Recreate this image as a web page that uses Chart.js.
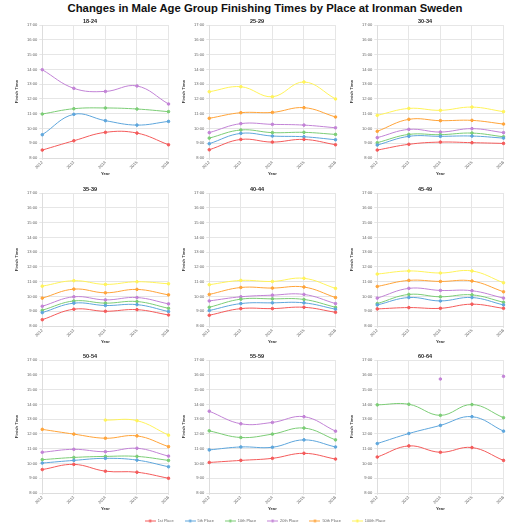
<!DOCTYPE html>
<html>
<head>
<meta charset="utf-8">
<title>Changes in Male Age Group Finishing Times by Place at Ironman Sweden</title>
<script src="https://cdn.jsdelivr.net/npm/chart.js@4.4.0/dist/chart.umd.min.js"></script>
<style>
  html, body { margin: 0; padding: 0; background: #fff; }
  #page { position: relative; width: 530px; height: 530px; overflow: hidden; }
  #title { position: absolute; left: 0; top: 2px; width: 530px; text-align: center;
           font: bold 11.3px "Liberation Sans", Arial, sans-serif; color: #111; }
  .panel { position: absolute; }
  #legendBox { position: absolute; left: 0; top: 508px; width: 530px; height: 22px; }
</style>
</head>
<body>
<div id="page">
  <div id="title">Changes in Male Age Group Finishing Times by Place at Ironman Sweden</div>
  <div id="legendBox"><canvas id="legendChart"></canvas></div>
</div>
<script>
// ================== DATA ==================
const years = ['2012', '2013', '2014', '2015', '2016'];
const places = ['1st Place', '5th Place', '10th Place', '20th Place', '50th Place', '100th Place'];
const ageGroups = ['18-24', '25-29', '30-34', '35-39', '40-44', '45-49', '50-54', '55-59', '60-64'];
const hourLabels = ['8:00', '9:00', '10:00', '11:00', '12:00', '13:00', '14:00', '15:00', '16:00', '17:00'];

// finish time in hours, one row per place (same order as `places`), null = nobody at that place
const times1824 = [
    [8.54, 9.17, 9.74, 9.69, 8.90],
    [9.58, 10.96, 10.53, 10.23, 10.48],
    [10.98, 11.34, 11.39, 11.32, 11.14],
    [13.98, 12.72, 12.51, 12.88, 11.66],
    null,
    null
];
const times2529 = [
    [8.56, 9.26, 9.08, 9.26, 8.90],
    [8.97, 9.67, 9.49, 9.44, 9.24],
    [9.35, 9.90, 9.72, 9.74, 9.60],
    [9.72, 10.33, 10.28, 10.23, 10.05],
    [10.69, 11.07, 11.09, 11.41, 10.78],
    [12.49, 12.83, 12.15, 13.15, 12.00]
];
const times3034 = [
    [8.54, 8.93, 9.08, 9.04, 8.99],
    [8.88, 9.47, 9.47, 9.49, 9.35],
    [9.04, 9.60, 9.58, 9.69, 9.44],
    [9.38, 9.94, 9.76, 9.99, 9.72],
    [9.81, 10.62, 10.53, 10.55, 10.30],
    [10.89, 11.36, 11.23, 11.45, 11.14]
];
const times3539 = [
    [8.43, 9.14, 9.00, 9.11, 8.75],
    [8.91, 9.55, 9.39, 9.45, 8.98],
    [9.07, 9.70, 9.55, 9.66, 9.20],
    [9.34, 9.98, 9.77, 9.93, 9.50],
    [9.89, 10.50, 10.25, 10.48, 10.11],
    [10.70, 11.07, 10.82, 11.00, 10.86]
];
const times4044 = [
    [8.73, 9.18, 9.18, 9.27, 8.93],
    [9.05, 9.52, 9.57, 9.57, 9.14],
    [9.27, 9.82, 9.84, 9.80, 9.27],
    [9.70, 9.98, 10.09, 10.14, 9.52],
    [10.14, 10.61, 10.57, 10.64, 9.93],
    [10.80, 11.09, 11.02, 11.23, 10.55]
];
const times4549 = [
    [9.16, 9.25, 9.20, 9.48, 9.20],
    [9.43, 9.93, 9.70, 9.93, 9.43],
    [9.52, 10.14, 9.98, 10.11, 9.61],
    [9.89, 10.55, 10.41, 10.39, 9.89],
    [10.68, 11.09, 11.02, 11.05, 10.32],
    [11.52, 11.73, 11.59, 11.73, 10.93]
];
const times5054 = [
    [9.59, 9.94, 9.48, 9.41, 9.00],
    [10.03, 10.21, 10.35, 10.23, 9.78],
    [10.26, 10.41, 10.48, 10.48, 10.21],
    [10.76, 10.96, 10.80, 11.03, 10.50],
    [12.31, 11.99, 11.71, 11.87, 11.14],
    [null, null, 12.94, 12.90, 11.92]
];
const times5559 = [
    [10.07, 10.21, 10.35, 10.69, 10.30],
    [10.92, 11.12, 11.10, 11.60, 11.12],
    [12.21, 11.76, 11.99, 12.40, 11.60],
    [13.54, 12.69, 12.78, 13.17, 12.19],
    null,
    null
];
const times6064 = [
    [10.44, 11.19, 10.76, 11.08, 10.21],
    [11.35, 12.03, 12.58, 13.17, 12.19],
    [13.97, 14.01, 13.26, 13.99, 13.10],
    [null, null, 15.72, null, 15.90],
    null,
    null
];
const groupTimes = [times1824, times2529, times3034, times3539, times4044, times4549, times5054, times5559, times6064];

// ================== STYLE ==================
const FONT = '"Liberation Sans", Arial, Helvetica, sans-serif';
const placeColors = ['#f45b5b', '#5ea6dc', '#7ccd76', '#c283d6', '#ffa43a', '#fff35a'];
const GRID = '#e6e6e6';
const PANEL_W = 168, PANEL_H = 162;
const COL_LEFT = [4, 171, 339];
const ROW_TOP = [16, 183.5, 351];

Chart.defaults.font.family = FONT;
Chart.defaults.color = '#666';

// ================== PANELS ==================
function makeDatasets(rows) {
    const sets = [];
    rows.forEach((vals, i) => {
        if (!vals) return;
        sets.push({
            label: places[i],
            data: vals,
            borderColor: placeColors[i],
            backgroundColor: placeColors[i],
            pointBackgroundColor: placeColors[i],
            pointBorderColor: placeColors[i],
            borderWidth: 1,
            pointRadius: 1.3,
            pointHoverRadius: 1.3,
            tension: 0.4,
            spanGaps: false,
            fill: false
        });
    });
    return sets;
}

function makePanel(idx) {
    const col = idx % 3, row = Math.floor(idx / 3);
    const box = document.createElement('div');
    box.className = 'panel';
    box.style.left = COL_LEFT[col] + 'px';
    box.style.top = ROW_TOP[row] + 'px';
    box.style.width = PANEL_W + 'px';
    box.style.height = PANEL_H + 'px';
    const cv = document.createElement('canvas');
    box.appendChild(cv);
    document.getElementById('page').appendChild(box);

    new Chart(cv.getContext('2d'), {
        type: 'line',
        data: { labels: years, datasets: makeDatasets(groupTimes[idx]) },
        options: {
            responsive: true,
            maintainAspectRatio: false,
            animation: false,
            events: [],
            layout: { padding: { left: 4, right: 0, top: 0, bottom: 2 } },
            plugins: {
                legend: { display: false },
                tooltip: { enabled: false },
                title: {
                    display: true, text: ageGroups[idx], color: '#222',
                    font: { size: 5.5, weight: 'bold' }, padding: { top: 2.5, bottom: 0 }
                }
            },
            scales: {
                x: {
                    ticks: { font: { size: 4.1 }, color: '#666', minRotation: 45, maxRotation: 45, padding: 0 },
                    grid: { color: GRID, tickLength: 2 },
                    border: { color: '#ddd' },
                    title: { display: true, text: 'Year', color: '#333', font: { size: 4.2, weight: 'bold' }, padding: { top: 1, bottom: 0 } }
                },
                y: {
                    min: 8, max: 17,
                    ticks: { stepSize: 1, font: { size: 4.1 }, color: '#666', padding: 2,
                             callback: v => hourLabels[v - 8] },
                    grid: { color: GRID, tickLength: 3 },
                    border: { color: '#ddd' },
                    title: { display: true, text: 'Finish Time', color: '#333', font: { size: 4.2, weight: 'bold' }, padding: { top: 6, bottom: 6 } }
                }
            }
        }
    });
}

ageGroups.forEach((g, i) => makePanel(i));

// ================== LEGEND ==================
function legendMarker(color) {
    const c = document.createElement('canvas');
    c.width = 11; c.height = 5;
    const g = c.getContext('2d');
    g.strokeStyle = color;
    g.lineWidth = 1;
    g.beginPath(); g.moveTo(0, 2.5); g.lineTo(11, 2.5); g.stroke();
    g.fillStyle = color;
    g.beginPath(); g.arc(5.5, 2.5, 1.4, 0, Math.PI * 2); g.fill();
    return c;
}
const markers = placeColors.map(legendMarker);

new Chart(document.getElementById('legendChart').getContext('2d'), {
    type: 'line',
    data: { labels: [], datasets: places.map((p, i) => ({ label: p, data: [], borderColor: placeColors[i] })) },
    options: {
        responsive: true,
        maintainAspectRatio: false,
        animation: false,
        events: [],
        scales: { x: { display: false }, y: { display: false } },
        plugins: {
            tooltip: { enabled: false },
            legend: {
                display: true,
                position: 'top',
                maxHeight: 22,
                labels: {
                    usePointStyle: true,
                    pointStyleWidth: 11,
                    padding: 11,
                    color: '#666',
                    font: { size: 3.9 },
                    generateLabels: () => places.map((p, i) => ({
                        text: p, datasetIndex: i, hidden: false,
                        fillStyle: placeColors[i], strokeStyle: placeColors[i],
                        pointStyle: markers[i], lineWidth: 0, fontColor: '#666'
                    }))
                }
            }
        }
    }
});
</script>
</body>
</html>
